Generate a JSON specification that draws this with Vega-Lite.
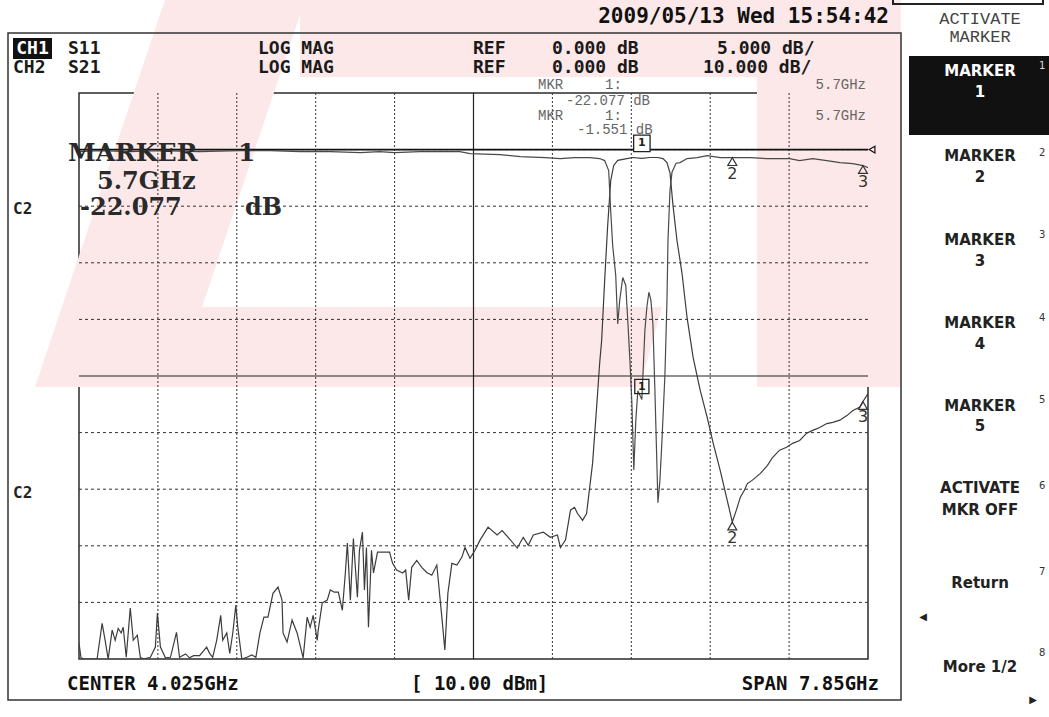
{
  "$schema": "https://vega.github.io/schema/vega-lite/v6.json",
  "width": 789,
  "height": 566,
  "autosize": {"type": "none"},
  "padding": {"left": 79, "top": 93, "right": 181, "bottom": 58},
  "background": "#ffffff",
  "config": {"view": {"stroke": "#2b2b2b", "strokeWidth": 1.5}, "font": "DejaVu Sans"},
  "datasets": {
    "s21": [
      {"f":0.10,"db":-87.2},{"f":0.12,"db":-89.8},{"f":0.15,"db":-90},{"f":0.28,"db":-90},{"f":0.33,"db":-83.7},{"f":0.36,"db":-86.7},{"f":0.39,"db":-90},{"f":0.43,"db":-84.9},{"f":0.46,"db":-86.7},{"f":0.49,"db":-84.6},{"f":0.52,"db":-85.4},{"f":0.54,"db":-84.4},{"f":0.57,"db":-89.7},{"f":0.61,"db":-81.0},{"f":0.64,"db":-86.7},{"f":0.68,"db":-85.8},{"f":0.71,"db":-89.7},{"f":0.74,"db":-90},{"f":0.81,"db":-89.7},{"f":0.86,"db":-87.9},{"f":0.88,"db":-81.9},{"f":0.91,"db":-87.9},{"f":0.96,"db":-89.8},{"f":1.01,"db":-89.7},{"f":1.07,"db":-85.3},{"f":1.10,"db":-89.7},{"f":1.16,"db":-89.1},{"f":1.20,"db":-89.8},{"f":1.24,"db":-89.4},{"f":1.30,"db":-89.4},{"f":1.37,"db":-87.9},{"f":1.40,"db":-89.0},{"f":1.43,"db":-89.7},{"f":1.47,"db":-86.7},{"f":1.51,"db":-82.3},{"f":1.53,"db":-86.7},{"f":1.57,"db":-85.4},{"f":1.60,"db":-89.0},{"f":1.63,"db":-85.4},{"f":1.66,"db":-80.5},{"f":1.68,"db":-84.4},{"f":1.72,"db":-90},{"f":1.77,"db":-89.7},{"f":1.82,"db":-89.3},{"f":1.86,"db":-89.7},{"f":1.90,"db":-85.4},{"f":1.94,"db":-82.6},{"f":1.98,"db":-82.6},{"f":2.03,"db":-78.4},{"f":2.08,"db":-77.3},{"f":2.12,"db":-79.6},{"f":2.13,"db":-85.4},{"f":2.17,"db":-87.0},{"f":2.22,"db":-83.1},{"f":2.27,"db":-85.4},{"f":2.33,"db":-89.8},{"f":2.37,"db":-82.6},{"f":2.40,"db":-84.4},{"f":2.43,"db":-82.3},{"f":2.47,"db":-86.7},{"f":2.48,"db":-84.9},{"f":2.52,"db":-80.1},{"f":2.57,"db":-79.6},{"f":2.60,"db":-77.8},{"f":2.64,"db":-78.2},{"f":2.68,"db":-78.2},{"f":2.72,"db":-81.4},{"f":2.75,"db":-74.8},{"f":2.77,"db":-69.5},{"f":2.80,"db":-79.6},{"f":2.83,"db":-68.7},{"f":2.87,"db":-79.1},{"f":2.89,"db":-70.8},{"f":2.92,"db":-67.6},{"f":2.94,"db":-77.8},{"f":2.96,"db":-70.3},{"f":2.98,"db":-84.4},{"f":3.01,"db":-70.8},{"f":3.03,"db":-74.8},{"f":3.07,"db":-71.1},{"f":3.14,"db":-71.1},{"f":3.19,"db":-71.1},{"f":3.22,"db":-73.1},{"f":3.26,"db":-74.3},{"f":3.32,"db":-74.8},{"f":3.35,"db":-74.3},{"f":3.38,"db":-79.6},{"f":3.41,"db":-73.8},{"f":3.46,"db":-72.6},{"f":3.51,"db":-73.8},{"f":3.56,"db":-74.7},{"f":3.61,"db":-75.2},{"f":3.66,"db":-73.4},{"f":3.71,"db":-82.6},{"f":3.74,"db":-88.4},{"f":3.77,"db":-78.4},{"f":3.81,"db":-73.1},{"f":3.86,"db":-73.4},{"f":3.91,"db":-72.0},{"f":3.94,"db":-70.3},{"f":3.99,"db":-72.2},{"f":4.04,"db":-70.8},{"f":4.09,"db":-69.0},{"f":4.17,"db":-66.7},{"f":4.26,"db":-68.1},{"f":4.31,"db":-67.3},{"f":4.37,"db":-68.5},{"f":4.46,"db":-70.4},{"f":4.52,"db":-68.5},{"f":4.57,"db":-69.9},{"f":4.62,"db":-68.1},{"f":4.72,"db":-67.6},{"f":4.79,"db":-68.5},{"f":4.86,"db":-68.1},{"f":4.89,"db":-70.3},{"f":4.94,"db":-69.0},{"f":4.99,"db":-63.7},{"f":5.03,"db":-63.2},{"f":5.06,"db":-64.3},{"f":5.11,"db":-65.5},{"f":5.15,"db":-64.3},{"f":5.21,"db":-55.4},{"f":5.25,"db":-45.5},{"f":5.28,"db":-37.8},{"f":5.30,"db":-33.7},{"f":5.33,"db":-23.1},{"f":5.36,"db":-13.4},{"f":5.39,"db":-5.5},{"f":5.42,"db":-2.8},{"f":5.46,"db":-1.9},{"f":5.55,"db":-1.6},{"f":5.61,"db":-1.4},{"f":5.70,"db":-1.551},{"f":5.78,"db":-1.4},{"f":5.86,"db":-1.4},{"f":5.91,"db":-1.6},{"f":5.95,"db":-2.3},{"f":5.98,"db":-4.1},{"f":6.01,"db":-9.9},{"f":6.05,"db":-16.1},{"f":6.10,"db":-21.9},{"f":6.15,"db":-29.7},{"f":6.21,"db":-36.7},{"f":6.28,"db":-42.5},{"f":6.35,"db":-47.3},{"f":6.41,"db":-51.9},{"f":6.48,"db":-56.7},{"f":6.55,"db":-62.0},{"f":6.60,"db":-65.8},{"f":6.64,"db":-63.7},{"f":6.68,"db":-61.4},{"f":6.72,"db":-60.2},{"f":6.75,"db":-59.0},{"f":6.80,"db":-58.4},{"f":6.88,"db":-57.2},{"f":6.95,"db":-55.8},{"f":7.00,"db":-54.4},{"f":7.07,"db":-53.1},{"f":7.14,"db":-52.6},{"f":7.20,"db":-51.9},{"f":7.27,"db":-51.4},{"f":7.34,"db":-50.1},{"f":7.40,"db":-49.6},{"f":7.47,"db":-49.1},{"f":7.54,"db":-48.4},{"f":7.60,"db":-48.2},{"f":7.67,"db":-47.8},{"f":7.74,"db":-47.0},{"f":7.80,"db":-46.1},{"f":7.87,"db":-45.5},{"f":7.90,"db":-44.5},{"f":7.95,"db":-43.1}
    ],
    "s11": [
      {"f":0.10,"db":-0.18},{"f":0.31,"db":-0.09},{"f":0.61,"db":-0.18},{"f":0.91,"db":-0.09},{"f":1.30,"db":-0.18},{"f":1.70,"db":-0.09},{"f":2.00,"db":-0.09},{"f":2.30,"db":-0.18},{"f":2.60,"db":-0.18},{"f":2.90,"db":-0.26},{"f":3.09,"db":-0.18},{"f":3.24,"db":-0.26},{"f":3.49,"db":-0.18},{"f":3.89,"db":-0.18},{"f":3.99,"db":-0.35},{"f":4.29,"db":-0.44},{"f":4.49,"db":-0.62},{"f":4.74,"db":-0.71},{"f":4.89,"db":-0.79},{"f":5.03,"db":-0.71},{"f":5.18,"db":-0.71},{"f":5.28,"db":-0.79},{"f":5.33,"db":-0.97},{"f":5.37,"db":-1.85},{"f":5.39,"db":-5.4},{"f":5.41,"db":-8.5},{"f":5.44,"db":-11.1},{"f":5.46,"db":-15.4},{"f":5.48,"db":-13.3},{"f":5.51,"db":-11.3},{"f":5.54,"db":-12.0},{"f":5.56,"db":-15.1},{"f":5.58,"db":-18.4},{"f":5.60,"db":-22.2},{"f":5.62,"db":-28.3},{"f":5.64,"db":-23.9},{"f":5.66,"db":-21.3},{"f":5.70,"db":-22.077},{"f":5.73,"db":-16.0},{"f":5.75,"db":-13.9},{"f":5.77,"db":-12.6},{"f":5.79,"db":-13.3},{"f":5.81,"db":-15.4},{"f":5.83,"db":-21.3},{"f":5.86,"db":-31.2},{"f":5.88,"db":-29.2},{"f":5.90,"db":-25.7},{"f":5.93,"db":-19.8},{"f":5.95,"db":-13.3},{"f":5.96,"db":-8.0},{"f":5.98,"db":-3.6},{"f":6.00,"db":-2.0},{"f":6.04,"db":-1.2},{"f":6.08,"db":-1.15},{"f":6.15,"db":-0.79},{"f":6.25,"db":-0.71},{"f":6.35,"db":-0.53},{"f":6.48,"db":-0.71},{"f":6.60,"db":-0.71},{"f":6.78,"db":-0.71},{"f":6.94,"db":-0.79},{"f":7.07,"db":-0.79},{"f":7.17,"db":-0.79},{"f":7.27,"db":-0.97},{"f":7.40,"db":-0.79},{"f":7.54,"db":-0.97},{"f":7.67,"db":-1.15},{"f":7.80,"db":-1.24},{"f":7.90,"db":-1.41},{"f":7.95,"db":-1.59}
    ],
    "vgrid": [{"f":0.885},{"f":1.67},{"f":2.455},{"f":3.24},{"f":4.81},{"f":5.595},{"f":6.38},{"f":7.165}],
    "hgrid": [{"db":0},{"db":-10},{"db":-20},{"db":-30},{"db":-50},{"db":-60},{"db":-70},{"db":-80}],
    "mk21": [{"f":6.6,"db":-65.8,"label":"2"},{"f":7.9,"db":-44.5,"label":"3"}],
    "mk11": [{"f":6.6,"db":-0.71,"label":"2"},{"f":7.9,"db":-1.41,"label":"3"}],
    "act21": [{"f":5.7,"db":-1.551,"label":"1"}],
    "act11": [{"f":5.7,"db":-22.077,"label":"1"}]
  },
  "layer": [
    {
      "data": {"values": [{}]},
      "mark": {"type": "point", "shape": "M-0.6536,-0.6518L-0.3991,-0.6518L-0.5864,-0.0936L0.25,-0.0936L0.21,0.0518L-0.89,0.0518Z M-0.4082,-0.6518L0.6845,-0.6518L0.6845,-0.5118L-0.4082,-0.5118Z M0.4227,-0.6518L0.6845,-0.6518L0.6845,0.0518L0.4227,0.0518Z", "size": 1210000, "x": 445.5, "y": 265.5, "filled": true, "fill": "#fce8e8", "strokeWidth": 0, "opacity": 1},
      "encoding": {}
    },
    {
      "layer": [
        {
          "data": {"name": "vgrid"},
          "mark": {"type": "rule", "strokeDash": [2, 2], "color": "#333333", "strokeWidth": 1},
          "encoding": {"x": {"field": "f", "type": "quantitative", "scale": {"domain": [0.1, 7.95], "nice": false, "zero": false}, "axis": null}}
        },
        {
          "data": {"name": "hgrid"},
          "mark": {"type": "rule", "strokeDash": [3, 3], "color": "#333333", "strokeWidth": 1},
          "encoding": {"y": {"field": "db", "type": "quantitative", "scale": {"domain": [-90, 10], "nice": false, "zero": false}, "axis": null}}
        },
        {
          "data": {"values": [{"f": 4.025}]},
          "mark": {"type": "rule", "color": "#222222", "strokeWidth": 1.2},
          "encoding": {"x": {"field": "f", "type": "quantitative", "scale": {"domain": [0.1, 7.95], "nice": false, "zero": false}, "axis": null}}
        },
        {
          "data": {"values": [{"db": -40}]},
          "mark": {"type": "rule", "color": "#222222", "strokeWidth": 1.2},
          "encoding": {"y": {"field": "db", "type": "quantitative", "scale": {"domain": [-90, 10], "nice": false, "zero": false}, "axis": null}}
        },
        {
          "data": {"values": [{"db": 0}]},
          "mark": {"type": "rule", "color": "#111111", "strokeWidth": 1.6},
          "encoding": {"y": {"field": "db", "type": "quantitative", "scale": {"domain": [-90, 10], "nice": false, "zero": false}, "axis": null}}
        },
        {
          "data": {"values": [{"f": 7.95, "db": 0}]},
          "mark": {"type": "point", "shape": "triangle-left", "size": 45, "filled": false, "color": "#111111", "strokeWidth": 1.2, "xOffset": 4, "opacity": 1},
          "encoding": {
            "x": {"field": "f", "type": "quantitative", "scale": {"domain": [0.1, 7.95], "nice": false, "zero": false}, "axis": null},
            "y": {"field": "db", "type": "quantitative", "scale": {"domain": [-90, 10], "nice": false, "zero": false}, "axis": null}
          }
        },
        {
          "data": {"name": "s21"},
          "mark": {"type": "line", "color": "#3c3c3c", "strokeWidth": 1.2, "clip": true},
          "encoding": {
            "x": {"field": "f", "type": "quantitative", "scale": {"domain": [0.1, 7.95], "nice": false, "zero": false}, "axis": null},
            "y": {"field": "db", "type": "quantitative", "scale": {"domain": [-90, 10], "nice": false, "zero": false}, "axis": null}
          }
        },
        {
          "data": {"name": "mk21"},
          "mark": {"type": "point", "shape": "triangle-up", "size": 80, "filled": false, "color": "#333333", "strokeWidth": 1.2, "yOffset": 4, "opacity": 1},
          "encoding": {
            "x": {"field": "f", "type": "quantitative", "scale": {"domain": [0.1, 7.95], "nice": false, "zero": false}, "axis": null},
            "y": {"field": "db", "type": "quantitative", "scale": {"domain": [-90, 10], "nice": false, "zero": false}, "axis": null}
          }
        },
        {
          "data": {"name": "mk21"},
          "mark": {"type": "text", "dy": 16, "fontSize": 16, "font": "DejaVu Sans", "color": "#333333", "baseline": "middle"},
          "encoding": {
            "x": {"field": "f", "type": "quantitative", "scale": {"domain": [0.1, 7.95], "nice": false, "zero": false}, "axis": null},
            "y": {"field": "db", "type": "quantitative", "scale": {"domain": [-90, 10], "nice": false, "zero": false}, "axis": null},
            "text": {"field": "label"}
          }
        },
        {
          "data": {"name": "act21"},
          "mark": {"type": "point", "shape": "square", "size": 270, "filled": true, "fill": "#ffffff", "stroke": "#222222", "strokeWidth": 1.3, "yOffset": -15, "opacity": 1},
          "encoding": {
            "x": {"field": "f", "type": "quantitative", "scale": {"domain": [0.1, 7.95], "nice": false, "zero": false}, "axis": null},
            "y": {"field": "db", "type": "quantitative", "scale": {"domain": [-90, 10], "nice": false, "zero": false}, "axis": null}
          }
        },
        {
          "data": {"name": "act21"},
          "mark": {"type": "text", "dy": -15, "fontSize": 11, "fontWeight": "bold", "font": "DejaVu Sans", "color": "#222222", "baseline": "middle"},
          "encoding": {
            "x": {"field": "f", "type": "quantitative", "scale": {"domain": [0.1, 7.95], "nice": false, "zero": false}, "axis": null},
            "y": {"field": "db", "type": "quantitative", "scale": {"domain": [-90, 10], "nice": false, "zero": false}, "axis": null},
            "text": {"field": "label"}
          }
        }
      ]
    },
    {
      "layer": [
        {
          "data": {"name": "s11"},
          "mark": {"type": "line", "color": "#4a4a4a", "strokeWidth": 1.2, "clip": true},
          "encoding": {
            "x": {"field": "f", "type": "quantitative", "scale": {"domain": [0.1, 7.95], "nice": false, "zero": false}, "axis": null},
            "y": {"field": "db", "type": "quantitative", "scale": {"domain": [-45, 5], "nice": false, "zero": false}, "axis": null}
          }
        },
        {
          "data": {"name": "mk11"},
          "mark": {"type": "point", "shape": "triangle-up", "size": 80, "filled": false, "color": "#333333", "strokeWidth": 1.2, "yOffset": 4, "opacity": 1},
          "encoding": {
            "x": {"field": "f", "type": "quantitative", "scale": {"domain": [0.1, 7.95], "nice": false, "zero": false}, "axis": null},
            "y": {"field": "db", "type": "quantitative", "scale": {"domain": [-45, 5], "nice": false, "zero": false}, "axis": null}
          }
        },
        {
          "data": {"name": "mk11"},
          "mark": {"type": "text", "dy": 16, "fontSize": 16, "font": "DejaVu Sans", "color": "#333333", "baseline": "middle"},
          "encoding": {
            "x": {"field": "f", "type": "quantitative", "scale": {"domain": [0.1, 7.95], "nice": false, "zero": false}, "axis": null},
            "y": {"field": "db", "type": "quantitative", "scale": {"domain": [-45, 5], "nice": false, "zero": false}, "axis": null},
            "text": {"field": "label"}
          }
        },
        {
          "data": {"name": "act11"},
          "mark": {"type": "point", "shape": "square", "size": 200, "filled": false, "color": "#222222", "strokeWidth": 1.3, "yOffset": -13, "opacity": 1},
          "encoding": {
            "x": {"field": "f", "type": "quantitative", "scale": {"domain": [0.1, 7.95], "nice": false, "zero": false}, "axis": null},
            "y": {"field": "db", "type": "quantitative", "scale": {"domain": [-45, 5], "nice": false, "zero": false}, "axis": null}
          }
        },
        {
          "data": {"name": "act11"},
          "mark": {"type": "text", "dy": -13, "fontSize": 11, "fontWeight": "bold", "font": "DejaVu Sans", "color": "#222222", "baseline": "middle"},
          "encoding": {
            "x": {"field": "f", "type": "quantitative", "scale": {"domain": [0.1, 7.95], "nice": false, "zero": false}, "axis": null},
            "y": {"field": "db", "type": "quantitative", "scale": {"domain": [-45, 5], "nice": false, "zero": false}, "axis": null},
            "text": {"field": "label"}
          }
        }
      ]
    },
    {
      "data": {"values": [{}]},
      "layer": [
        {"mark": {"type": "rect", "x": -71, "x2": 822, "y": -60, "y2": 607, "filled": false, "color": "#333333", "strokeWidth": 1.5}, "encoding": {}},
        {"mark": {"type": "rect", "x": -66, "x2": -27, "y": -55, "y2": -34, "color": "#111111"}, "encoding": {}},
        {"mark": {"type": "rect", "x": 830, "x2": 970, "y": -37, "y2": 42, "color": "#111111"}, "encoding": {}},
        {"mark": {"type": "rect", "x": 814, "x2": 964, "y": -100, "y2": -89, "filled": false, "color": "#222222", "strokeWidth": 2}, "encoding": {}},
        {"mark": {"type": "rule", "x": 829, "x2": 970, "y": 125, "y2": 125, "color": "#555555", "strokeWidth": 2}, "encoding": {}},
        {"mark": {"type": "rule", "x": 829, "x2": 970, "y": 209, "y2": 209, "color": "#555555", "strokeWidth": 2}, "encoding": {}},
        {"mark": {"type": "rule", "x": 829, "x2": 970, "y": 294, "y2": 294, "color": "#555555", "strokeWidth": 2}, "encoding": {}},
        {"mark": {"type": "rule", "x": 829, "x2": 970, "y": 373, "y2": 373, "color": "#555555", "strokeWidth": 2}, "encoding": {}},
        {"mark": {"type": "rule", "x": 829, "x2": 970, "y": 458, "y2": 458, "color": "#555555", "strokeWidth": 2}, "encoding": {}},
        {"mark": {"type": "rule", "x": 829, "x2": 970, "y": 542, "y2": 542, "color": "#555555", "strokeWidth": 2}, "encoding": {}},
        {"mark": {"type": "rule", "x": 829, "x2": 970, "y": 623, "y2": 623, "color": "#555555", "strokeWidth": 2}, "encoding": {}},

        {"mark": {"type": "text", "text": "2009/05/13 Wed 15:54:42", "x": 810, "y": -76, "align": "right", "baseline": "middle", "font": "DejaVu Sans Mono", "fontSize": 21, "fontWeight": "bold", "color": "#111111"}},
        {"mark": {"type": "text", "text": "CH1", "x": -46.5, "y": -44, "align": "center", "baseline": "middle", "font": "DejaVu Sans Mono", "fontSize": 18, "fontWeight": "bold", "color": "#ffffff"}},
        {"mark": {"type": "text", "text": "S11", "x": -11, "y": -44, "align": "left", "baseline": "middle", "font": "DejaVu Sans Mono", "fontSize": 18, "fontWeight": "bold", "color": "#1a1a1a"}},
        {"mark": {"type": "text", "text": "LOG MAG", "x": 179, "y": -44, "align": "left", "baseline": "middle", "font": "DejaVu Sans Mono", "fontSize": 18, "fontWeight": "bold", "color": "#1a1a1a"}},
        {"mark": {"type": "text", "text": "REF", "x": 394, "y": -44, "align": "left", "baseline": "middle", "font": "DejaVu Sans Mono", "fontSize": 18, "fontWeight": "bold", "color": "#1a1a1a"}},
        {"mark": {"type": "text", "text": "0.000 dB", "x": 473, "y": -44, "align": "left", "baseline": "middle", "font": "DejaVu Sans Mono", "fontSize": 18, "fontWeight": "bold", "color": "#1a1a1a"}},
        {"mark": {"type": "text", "text": "5.000 dB/", "x": 638, "y": -44, "align": "left", "baseline": "middle", "font": "DejaVu Sans Mono", "fontSize": 18, "fontWeight": "bold", "color": "#1a1a1a"}},
        {"mark": {"type": "text", "text": "CH2", "x": -66, "y": -25, "align": "left", "baseline": "middle", "font": "DejaVu Sans Mono", "fontSize": 18, "fontWeight": "bold", "color": "#1a1a1a"}},
        {"mark": {"type": "text", "text": "S21", "x": -11, "y": -25, "align": "left", "baseline": "middle", "font": "DejaVu Sans Mono", "fontSize": 18, "fontWeight": "bold", "color": "#1a1a1a"}},
        {"mark": {"type": "text", "text": "LOG MAG", "x": 179, "y": -25, "align": "left", "baseline": "middle", "font": "DejaVu Sans Mono", "fontSize": 18, "fontWeight": "bold", "color": "#1a1a1a"}},
        {"mark": {"type": "text", "text": "REF", "x": 394, "y": -25, "align": "left", "baseline": "middle", "font": "DejaVu Sans Mono", "fontSize": 18, "fontWeight": "bold", "color": "#1a1a1a"}},
        {"mark": {"type": "text", "text": "0.000 dB", "x": 473, "y": -25, "align": "left", "baseline": "middle", "font": "DejaVu Sans Mono", "fontSize": 18, "fontWeight": "bold", "color": "#1a1a1a"}},
        {"mark": {"type": "text", "text": "10.000 dB/", "x": 624, "y": -25, "align": "left", "baseline": "middle", "font": "DejaVu Sans Mono", "fontSize": 18, "fontWeight": "bold", "color": "#1a1a1a"}},

        {"mark": {"type": "text", "text": "MKR", "x": 459, "y": -8, "align": "left", "baseline": "middle", "font": "Liberation Mono", "fontSize": 14, "color": "#666666"}},
        {"mark": {"type": "text", "text": "1:", "x": 526, "y": -8, "align": "left", "baseline": "middle", "font": "Liberation Mono", "fontSize": 14, "color": "#666666"}},
        {"mark": {"type": "text", "text": "5.7GHz", "x": 787, "y": -8, "align": "right", "baseline": "middle", "font": "Liberation Mono", "fontSize": 14, "color": "#666666"}},
        {"mark": {"type": "text", "text": "-22.077 dB", "x": 487, "y": 7.5, "align": "left", "baseline": "middle", "font": "Liberation Mono", "fontSize": 14, "color": "#666666"}},
        {"mark": {"type": "text", "text": "MKR", "x": 459, "y": 23, "align": "left", "baseline": "middle", "font": "Liberation Mono", "fontSize": 14, "color": "#666666"}},
        {"mark": {"type": "text", "text": "1:", "x": 526, "y": 23, "align": "left", "baseline": "middle", "font": "Liberation Mono", "fontSize": 14, "color": "#666666"}},
        {"mark": {"type": "text", "text": "5.7GHz", "x": 787, "y": 23, "align": "right", "baseline": "middle", "font": "Liberation Mono", "fontSize": 14, "color": "#666666"}},
        {"mark": {"type": "text", "text": "-1.551 dB", "x": 498, "y": 37, "align": "left", "baseline": "middle", "font": "Liberation Mono", "fontSize": 14, "color": "#666666"}},

        {"mark": {"type": "text", "text": "MARKER", "x": -11, "y": 60, "align": "left", "baseline": "middle", "font": "DejaVu Serif", "fontSize": 25, "fontWeight": "bold", "color": "#2a2a2a"}},
        {"mark": {"type": "text", "text": "1", "x": 159, "y": 60, "align": "left", "baseline": "middle", "font": "DejaVu Serif", "fontSize": 25, "fontWeight": "bold", "color": "#2a2a2a"}},
        {"mark": {"type": "text", "text": "5.7GHz", "x": 18, "y": 89, "align": "left", "baseline": "middle", "font": "DejaVu Serif", "fontSize": 24, "fontWeight": "bold", "color": "#2a2a2a"}},
        {"mark": {"type": "text", "text": "-22.077", "x": 1, "y": 115, "align": "left", "baseline": "middle", "font": "DejaVu Serif", "fontSize": 24, "fontWeight": "bold", "color": "#2a2a2a"}},
        {"mark": {"type": "text", "text": "dB", "x": 166, "y": 115, "align": "left", "baseline": "middle", "font": "DejaVu Serif", "fontSize": 24, "fontWeight": "bold", "color": "#2a2a2a"}},

        {"mark": {"type": "text", "text": "C2", "x": -66, "y": 116, "align": "left", "baseline": "middle", "font": "DejaVu Sans Mono", "fontSize": 16, "fontWeight": "bold", "color": "#222222"}},
        {"mark": {"type": "text", "text": "C2", "x": -66, "y": 400, "align": "left", "baseline": "middle", "font": "DejaVu Sans Mono", "fontSize": 16, "fontWeight": "bold", "color": "#222222"}},

        {"mark": {"type": "text", "text": "CENTER 4.025GHz", "x": -12, "y": 591, "align": "left", "baseline": "middle", "font": "DejaVu Sans Mono", "fontSize": 19, "fontWeight": "bold", "color": "#111111"}},
        {"mark": {"type": "text", "text": "[ 10.00 dBm]", "x": 332, "y": 591, "align": "left", "baseline": "middle", "font": "DejaVu Sans Mono", "fontSize": 19, "fontWeight": "bold", "color": "#111111"}},
        {"mark": {"type": "text", "text": "SPAN 7.85GHz", "x": 800, "y": 591, "align": "right", "baseline": "middle", "font": "DejaVu Sans Mono", "fontSize": 19, "fontWeight": "bold", "color": "#111111"}},

        {"mark": {"type": "text", "text": "ACTIVATE", "x": 901, "y": -74, "align": "center", "baseline": "middle", "font": "Liberation Mono", "fontSize": 17, "color": "#444444"}},
        {"mark": {"type": "text", "text": "MARKER", "x": 901, "y": -56, "align": "center", "baseline": "middle", "font": "Liberation Mono", "fontSize": 17, "color": "#444444"}},
        {"mark": {"type": "text", "text": "MARKER", "x": 901, "y": -22, "align": "center", "baseline": "middle", "font": "DejaVu Sans", "fontSize": 15, "fontWeight": "bold", "color": "#ffffff"}},
        {"mark": {"type": "text", "text": "1", "x": 901, "y": -1, "align": "center", "baseline": "middle", "font": "DejaVu Sans", "fontSize": 15, "fontWeight": "bold", "color": "#ffffff"}},
        {"mark": {"type": "text", "text": "MARKER", "x": 901, "y": 63, "align": "center", "baseline": "middle", "font": "DejaVu Sans", "fontSize": 15, "fontWeight": "bold", "color": "#222222"}},
        {"mark": {"type": "text", "text": "2", "x": 901, "y": 84, "align": "center", "baseline": "middle", "font": "DejaVu Sans", "fontSize": 15, "fontWeight": "bold", "color": "#222222"}},
        {"mark": {"type": "text", "text": "MARKER", "x": 901, "y": 147, "align": "center", "baseline": "middle", "font": "DejaVu Sans", "fontSize": 15, "fontWeight": "bold", "color": "#222222"}},
        {"mark": {"type": "text", "text": "3", "x": 901, "y": 168, "align": "center", "baseline": "middle", "font": "DejaVu Sans", "fontSize": 15, "fontWeight": "bold", "color": "#222222"}},
        {"mark": {"type": "text", "text": "MARKER", "x": 901, "y": 230, "align": "center", "baseline": "middle", "font": "DejaVu Sans", "fontSize": 15, "fontWeight": "bold", "color": "#222222"}},
        {"mark": {"type": "text", "text": "4", "x": 901, "y": 251, "align": "center", "baseline": "middle", "font": "DejaVu Sans", "fontSize": 15, "fontWeight": "bold", "color": "#222222"}},
        {"mark": {"type": "text", "text": "MARKER", "x": 901, "y": 313, "align": "center", "baseline": "middle", "font": "DejaVu Sans", "fontSize": 15, "fontWeight": "bold", "color": "#222222"}},
        {"mark": {"type": "text", "text": "5", "x": 901, "y": 333, "align": "center", "baseline": "middle", "font": "DejaVu Sans", "fontSize": 15, "fontWeight": "bold", "color": "#222222"}},
        {"mark": {"type": "text", "text": "ACTIVATE", "x": 901, "y": 395, "align": "center", "baseline": "middle", "font": "DejaVu Sans", "fontSize": 15, "fontWeight": "bold", "color": "#222222"}},
        {"mark": {"type": "text", "text": "MKR OFF", "x": 901, "y": 417, "align": "center", "baseline": "middle", "font": "DejaVu Sans", "fontSize": 15, "fontWeight": "bold", "color": "#222222"}},
        {"mark": {"type": "text", "text": "Return", "x": 901, "y": 490, "align": "center", "baseline": "middle", "font": "DejaVu Sans", "fontSize": 15, "fontWeight": "bold", "color": "#222222"}},
        {"mark": {"type": "text", "text": "More 1/2", "x": 901, "y": 574, "align": "center", "baseline": "middle", "font": "DejaVu Sans", "fontSize": 15, "fontWeight": "bold", "color": "#222222"}},
        {"mark": {"type": "text", "text": "◀", "x": 844, "y": 524, "align": "center", "baseline": "middle", "font": "DejaVu Sans", "fontSize": 10, "color": "#222222"}},
        {"mark": {"type": "text", "text": "▶", "x": 954, "y": 607, "align": "center", "baseline": "middle", "font": "DejaVu Sans", "fontSize": 10, "color": "#222222"}},
        {"mark": {"type": "text", "text": "1", "x": 960, "y": -27, "align": "left", "baseline": "middle", "font": "DejaVu Sans", "fontSize": 10, "color": "#dddddd"}},
        {"mark": {"type": "text", "text": "2", "x": 960, "y": 60, "align": "left", "baseline": "middle", "font": "DejaVu Sans", "fontSize": 10, "color": "#333333"}},
        {"mark": {"type": "text", "text": "3", "x": 960, "y": 142, "align": "left", "baseline": "middle", "font": "DejaVu Sans", "fontSize": 10, "color": "#333333"}},
        {"mark": {"type": "text", "text": "4", "x": 960, "y": 225, "align": "left", "baseline": "middle", "font": "DejaVu Sans", "fontSize": 10, "color": "#333333"}},
        {"mark": {"type": "text", "text": "5", "x": 960, "y": 307, "align": "left", "baseline": "middle", "font": "DejaVu Sans", "fontSize": 10, "color": "#333333"}},
        {"mark": {"type": "text", "text": "6", "x": 960, "y": 393, "align": "left", "baseline": "middle", "font": "DejaVu Sans", "fontSize": 10, "color": "#333333"}},
        {"mark": {"type": "text", "text": "7", "x": 960, "y": 479, "align": "left", "baseline": "middle", "font": "DejaVu Sans", "fontSize": 10, "color": "#333333"}},
        {"mark": {"type": "text", "text": "8", "x": 960, "y": 560, "align": "left", "baseline": "middle", "font": "DejaVu Sans", "fontSize": 10, "color": "#333333"}}
      ]
    }
  ],
  "resolve": {"scale": {"y": "independent"}}
}
